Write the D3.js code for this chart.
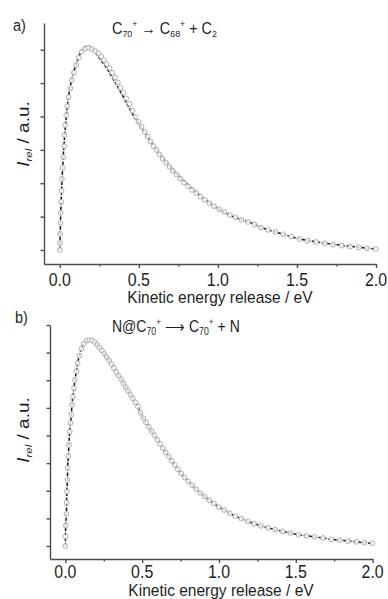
<!DOCTYPE html>
<html><head><meta charset="utf-8">
<script src="https://cdn.jsdelivr.net/npm/d3@7"></script>
<style>
body{margin:0;background:#fff}
svg{display:block}
text{font-family:"Liberation Sans",Arial,Helvetica,sans-serif;fill:#1e1e1e}
</style>
</head><body>
<svg id="chart" width="388" height="599"></svg>
<script>
// ---------- data ----------
const xTickValues = [0, 0.5, 1.0, 1.5, 2.0];
const xTickLabels = ["0.0", "0.5", "1.0", "1.5", "2.0"];
const xMinorTicks = [0.25, 0.75, 1.25, 1.75];
const yTicksA = [0, 1, 2, 3, 4, 5, 6];
const yTicksB = [0, 1, 2, 3, 4, 5, 6, 7, 8];
const xAxisTitle = "Kinetic energy release / eV";
const panelLabels = ["a)", "b)"];

// panel a: measured points (open circles)
const kerA = [0.000,0.001,0.003,0.004,0.006,0.009,0.011,0.013,0.017,0.022,0.028,0.030,0.034,0.041,0.047,0.055,0.066,0.076,0.089,0.104,0.120,0.139,0.161,0.182,0.203,0.224,0.245,0.262,0.278,0.296,0.315,0.332,0.348,0.367,0.384,0.403,0.420,0.441,0.460,
  0.479,0.498,0.517,0.536,0.555,0.574,0.593,0.612,0.631,0.651,0.672,0.694,0.716,0.739,0.762,0.786,0.811,0.836,0.862,0.889,0.917,0.946,0.976,1.008,1.041,1.076,1.112,1.150,1.190,1.231,1.273,1.318,1.364,1.413,1.463,1.515,1.568,1.622,1.675,1.729,1.783,1.837,1.891,1.944,1.998];
const intA = [0.00,0.21,0.48,0.81,1.11,1.44,1.77,2.13,2.46,2.78,3.11,3.44,3.74,4.04,4.31,4.58,4.85,5.09,5.31,5.54,5.76,5.94,6.04,6.06,6.02,5.96,5.89,5.79,5.69,5.57,5.45,5.31,5.17,5.02,4.86,4.71,4.54,4.38,4.17,
  3.98,3.84,3.69,3.54,3.40,3.25,3.11,2.99,2.86,2.73,2.61,2.49,2.37,2.26,2.14,2.02,1.91,1.80,1.71,1.60,1.50,1.40,1.31,1.22,1.14,1.05,0.98,0.90,0.84,0.76,0.67,0.60,0.54,0.47,0.40,0.33,0.28,0.24,0.20,0.16,0.13,0.10,0.08,0.05,0.03];
// panel a: fitted curve (dashed line)
const fitKerA = [0,0.005,0.01,0.02,0.03,0.04,0.05,0.075,0.1,0.125,0.15,0.175,0.2,0.225,0.25,0.3,0.35,0.4,0.45,0.5,0.55,0.6,0.65,0.7,0.8,0.9,1.0,1.1,1.2,1.3,1.4,1.5,1.6,1.8,2.0];
const fitIntA = [0,0.95,1.62,2.65,3.38,3.95,4.4,5.1,5.52,5.84,6.04,6.11,6.05,5.92,5.75,5.42,5.02,4.6,4.16,3.78,3.42,3.08,2.76,2.48,2.0,1.58,1.24,0.99,0.83,0.63,0.49,0.35,0.26,0.13,0.03];

// panel b: measured points (line passes through them)
const kerB = [0.000,0.001,0.002,0.007,0.008,0.010,0.013,0.015,0.020,0.023,0.028,0.033,0.039,0.043,0.049,0.056,0.062,0.072,0.080,0.091,0.104,0.119,0.137,0.156,0.173,0.191,0.208,0.223,0.238,0.254,0.269,0.286,0.301,0.316,0.332,0.347,0.362,0.378,0.393,0.408,0.425,0.440,0.456,0.473,
  0.489,0.507,0.525,0.543,0.561,0.579,0.598,0.616,0.634,0.653,0.673,0.692,0.712,0.732,0.754,0.777,0.801,0.826,0.852,0.879,0.907,0.936,0.967,0.999,1.034,1.070,1.107,1.146,1.187,1.229,1.273,1.319,1.366,1.415,1.465,1.518,1.570,1.623,1.677,1.731,1.786,1.840,1.894,1.947,1.999];
const intB = [0.00,0.34,0.74,1.16,1.57,1.97,2.39,2.82,3.26,3.66,4.14,4.45,4.75,5.11,5.41,5.71,6.01,6.32,6.62,6.89,7.14,7.32,7.43,7.46,7.44,7.38,7.28,7.18,7.08,6.96,6.84,6.70,6.58,6.44,6.30,6.17,6.04,5.89,5.75,5.61,5.47,5.33,5.19,5.04,
  4.82,4.63,4.48,4.32,4.16,4.01,3.85,3.70,3.55,3.39,3.24,3.08,2.93,2.78,2.63,2.48,2.34,2.20,2.05,1.92,1.79,1.66,1.54,1.41,1.30,1.19,1.08,0.99,0.89,0.81,0.73,0.66,0.59,0.53,0.47,0.41,0.37,0.33,0.29,0.24,0.21,0.18,0.15,0.12,0.10];

// ---------- layout ----------
const svg = d3.select("#chart");
const axisColor = "#4d4d4d";

const panels = [
  { label: panelLabels[0], labelPos:[13,31],
    x0:44, x1:376, yTop:23, yBot:264, yDomain:[-0.42,6.8], yTicks:yTicksA,
    pts: kerA.map((k,i)=>({x:k,y:intA[i]})),
    line: fitKerA.map((k,i)=>({x:k,y:fitIntA[i]})),
    tickBase:286, titleBase:303, ylabCenter:134,
    title:{x:112,y:34,size:16,sq:0.9,segs:[["C","n"],["70","sub"],["+","sup"],[" \u2192 C","n"],["68","sub"],["+","sup"],[" + C","n"],["2","sub"]]}
  },
  { label: panelLabels[1], labelPos:[15,323],
    x0:50, x1:372.6, yTop:325, yBot:559, yDomain:[-0.47,8], yTicks:yTicksB,
    pts: kerB.map((k,i)=>({x:k,y:intB[i]})),
    line: kerB.map((k,i)=>({x:k,y:intB[i]})),
    tickBase:578, titleBase:596, ylabCenter:430,
    title:{x:112,y:332,size:16.5,sq:0.85,segs:[["N@C","n"],["70","sub"],["+","sup"],[" \u27F6 C","n"],["70","sub"],["+","sup"],[" + N","n"]]}
  }
];

panels.forEach(p => {
  const g = svg.append("g");
  const x = d3.scaleLinear().domain([-0.1, 2.0]).range([p.x0, p.x1]);
  const y = d3.scaleLinear().domain(p.yDomain).range([p.yBot, p.yTop]);

  // x axis
  const xAx = d3.axisBottom(x).tickValues(xTickValues).tickFormat("").tickSize(4).tickSizeOuter(0);
  const gx = g.append("g").attr("transform", `translate(0,${p.yBot})`).call(xAx);
  const xMin = d3.axisBottom(x).tickValues(xMinorTicks).tickFormat("").tickSize(2.5).tickSizeOuter(0);
  const gxm = g.append("g").attr("transform", `translate(0,${p.yBot})`).call(xMin);
  gxm.select(".domain").remove();
  // y axis
  const yAx = d3.axisLeft(y).tickValues(p.yTicks).tickFormat("").tickSize(3.5).tickSizeOuter(0);
  const gy = g.append("g").attr("transform", `translate(${p.x0},0)`).call(yAx);
  [gx, gxm, gy].forEach(s => {
    s.selectAll("path,line").attr("stroke", axisColor).attr("stroke-width", 1.4);
  });

  // tick labels
  xTickValues.forEach((v, i) => {
    g.append("text")
      .attr("transform", `translate(${x(v)},${p.tickBase}) scale(0.86,1)`)
      .attr("text-anchor", "middle").attr("font-size", 18.5)
      .text(xTickLabels[i]);
  });
  // x axis title
  g.append("text")
    .attr("transform", `translate(${x(1.0)+2},${p.titleBase}) scale(0.94,1)`)
    .attr("text-anchor", "middle").attr("font-size", 16.5)
    .text(xAxisTitle);

  // y axis title
  const yl = g.append("text")
    .attr("transform", `translate(29,${p.ylabCenter}) rotate(-90) scale(1,0.85)`)
    .attr("text-anchor", "middle").attr("font-size", 19);
  yl.append("tspan").attr("font-style", "italic").text("I");
  yl.append("tspan").attr("font-style", "italic").attr("font-size", 11.5).attr("dy", 4).text("rel");
  yl.append("tspan").attr("dy", -4).text(" / a.u.");

  // panel label
  g.append("text")
    .attr("transform", `translate(${p.labelPos[0]},${p.labelPos[1]}) scale(0.85,1)`)
    .attr("font-size", 17).text(p.label);

  // reaction title
  const t = g.append("text")
    .attr("transform", `translate(${p.title.x},${p.title.y}) scale(${p.title.sq},1)`)
    .attr("font-size", p.title.size);
  p.title.segs.forEach(([s, k]) => {
    const ts = t.append("tspan").text(s);
    if (k === "sub") ts.attr("font-size", p.title.size*0.62).attr("y", 2.5);
    else if (k === "sup") ts.attr("font-size", p.title.size*0.6).attr("y", -p.title.size*0.42);
    else ts.attr("y", 0);
  });

  // curve
  const lineGen = d3.line().x(d => x(d.x)).y(d => y(d.y)).curve(d3.curveMonotoneX);
  g.append("path").datum(p.line)
    .attr("d", lineGen).attr("fill", "none")
    .attr("stroke", "#111").attr("stroke-width", 1.5)
    .attr("stroke-dasharray", "3.5,1.5");

  // points
  g.append("g").selectAll("circle").data(p.pts).join("circle")
    .attr("cx", d => x(d.x)).attr("cy", d => y(d.y)).attr("r", 2.4)
    .attr("fill", "#fff").attr("fill-opacity", 0.8)
    .attr("stroke", "#a5a5a5").attr("stroke-width", 0.9);
});
</script>
</body></html>
